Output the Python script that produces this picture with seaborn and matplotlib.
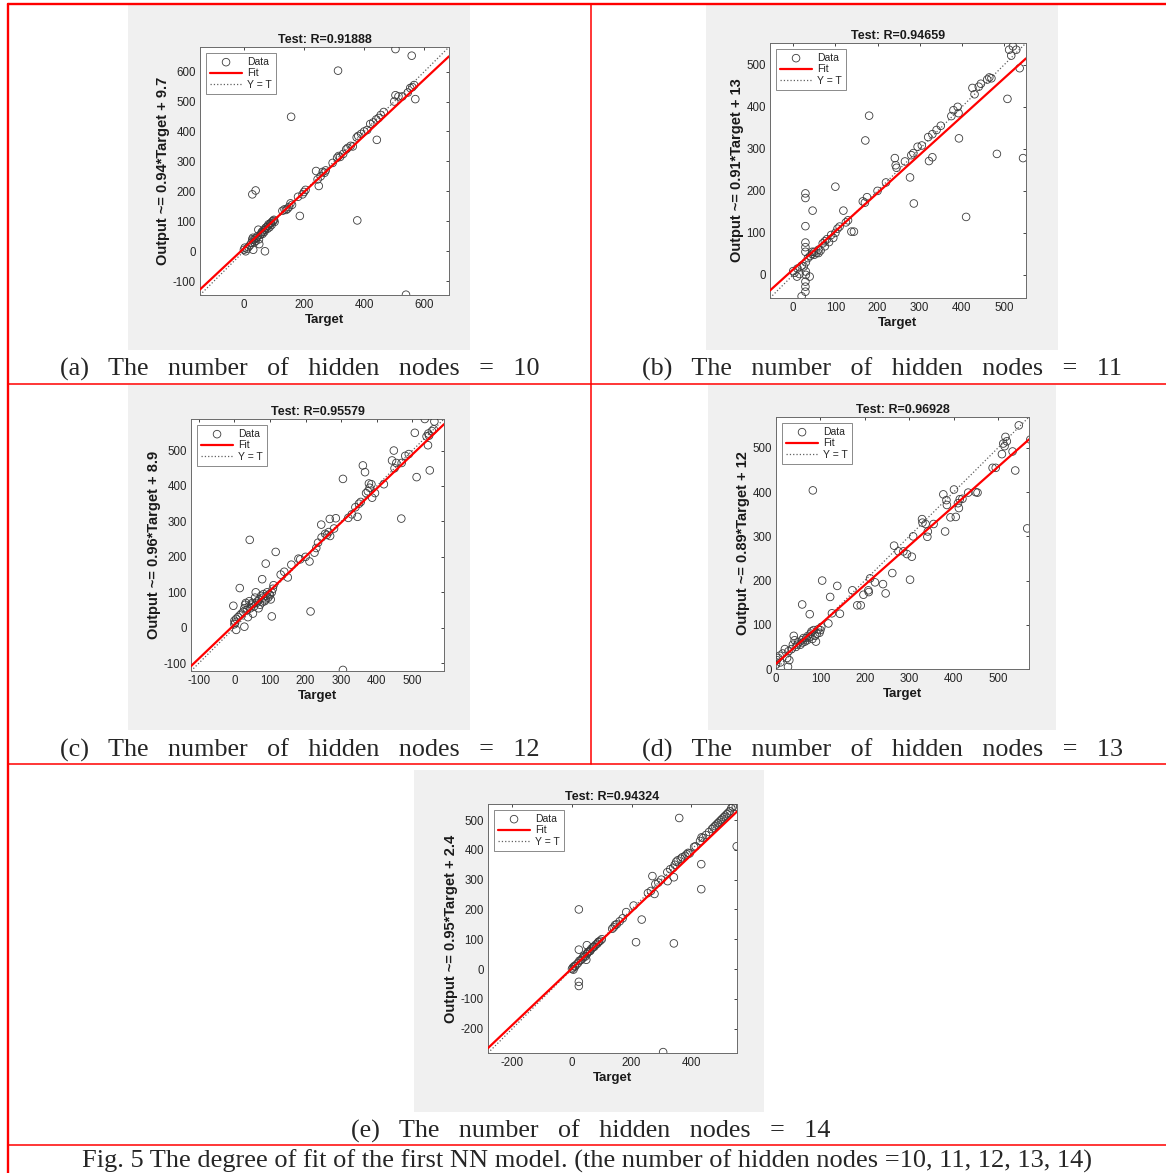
import numpy as np
import pandas as pd
import seaborn as sns
import matplotlib.pyplot as plt
from matplotlib.patches import Rectangle
from matplotlib.lines import Line2D

# ---- data: (target, output) ----
a_points = [(504, 675), (558, 653), (313, 603), (157, 449), (28, 190), (39, 203), (186, 118),
            (377, 103), (539, -145), (70, 0), (442, 372), (570, 508), (504, 521), (240, 268),
            (249, 218), (51, 24), (31, 5), (0, 5), (3, 12), (6, 0), (10, 8), (15, 14), (20, 20),
            (25, 28), (28, 40), (30, 45), (33, 38), (35, 30), (38, 42), (40, 35), (42, 45),
            (45, 50), (48, 72), (50, 40), (55, 55), (58, 60), (60, 65), (62, 58), (65, 70),
            (68, 65), (70, 72), (72, 78), (75, 80), (78, 75), (80, 85), (82, 90), (85, 80),
            (88, 92), (90, 95), (92, 88), (95, 100), (98, 102), (100, 105), (102, 98),
            (128, 135), (135, 140), (140, 138), (145, 142), (150, 148), (155, 160), (160, 155),
            (180, 182), (195, 190), (200, 198), (205, 205), (245, 240), (255, 250), (262, 265),
            (268, 262), (272, 270), (295, 295), (310, 312), (315, 318), (320, 315), (330, 325),
            (340, 340), (345, 345), (355, 352), (362, 350), (375, 380), (380, 385), (390, 392),
            (400, 400), (410, 405), (420, 425), (430, 430), (440, 440), (448, 445), (455, 455),
            (465, 465), (500, 500), (514, 517), (527, 517), (545, 530), (553, 545), (560, 548),
            (566, 555)]

b_points = [(512, 536), (521, 544), (529, 536), (517, 522), (537, 492), (508, 419), (545, 278),
            (483, 288), (410, 138), (393, 325), (286, 170), (277, 232), (330, 280), (322, 271),
            (180, 379), (171, 320), (100, 210), (119, 153), (46, 153), (29, 194), (29, 183),
            (29, 116), (29, 77), (29, 66), (29, 55), (29, -16), (29, -28), (29, -40), (20, -51),
            (39, -4), (9, -4), (0, 9), (138, 103), (144, 103), (241, 278), (243, 261), (3, 5),
            (10, 15), (20, 22), (30, 30), (35, 40), (40, 45), (45, 50), (50, 55), (55, 52),
            (60, 60), (65, 58), (70, 75), (75, 68), (80, 85), (85, 78), (90, 95), (95, 88),
            (100, 100), (105, 110), (110, 115), (125, 125), (130, 130), (165, 175), (170, 172),
            (175, 185), (200, 200), (220, 220), (245, 255), (265, 270), (280, 285), (285, 290),
            (295, 305), (305, 308), (320, 328), (330, 335), (340, 345), (350, 355), (375, 378),
            (380, 392), (390, 400), (392, 385), (425, 445), (430, 430), (440, 448), (445, 455),
            (460, 465), (465, 470), (470, 468), (15, 2), (25, 20), (30, 8), (30, 0), (45, 55),
            (50, 48), (60, 52), (75, 80)]

c_points = [(535, 589), (562, 582), (507, 550), (547, 542), (544, 515), (549, 444), (512, 425),
            (469, 308), (448, 500), (443, 472), (305, 420), (361, 458), (367, 439), (346, 313),
            (378, 407), (387, 367), (43, 248), (116, 214), (88, 181), (211, 187), (214, 46),
            (305, -119), (105, 32), (15, 112), (78, 137), (-3, 62), (28, 3), (5, -6), (244, 291),
            (268, 307), (285, 309), (269, 259), (225, 212), (0, 10), (0, 20), (2, 15), (5, 25),
            (10, 30), (15, 35), (20, 40), (25, 45), (28, 55), (30, 65), (32, 70), (35, 50),
            (38, 30), (40, 60), (42, 75), (45, 55), (48, 65), (50, 70), (52, 40), (55, 60),
            (58, 85), (60, 100), (62, 70), (65, 75), (68, 55), (70, 80), (72, 65), (75, 90),
            (78, 72), (80, 85), (82, 95), (85, 75), (88, 80), (90, 90), (92, 100), (95, 85),
            (98, 95), (100, 92), (102, 80), (105, 100), (108, 110), (110, 120), (130, 150),
            (140, 158), (150, 142), (160, 178), (180, 195), (185, 193), (200, 200), (230, 225),
            (235, 240), (245, 255), (255, 265), (260, 262), (265, 270), (280, 280), (320, 310),
            (330, 320), (340, 340), (350, 350), (355, 355), (370, 380), (375, 385), (380, 395),
            (385, 405), (395, 380), (420, 405), (450, 450), (455, 465), (470, 465), (480, 485),
            (490, 490), (540, 540), (545, 548), (555, 555), (560, 560)]

d_points = [(547, 551), (573, 519), (517, 525), (520, 515), (512, 510), (515, 504), (509, 486),
            (533, 492), (488, 455), (495, 455), (539, 449), (566, 318), (83, 404), (433, 399),
            (454, 399), (401, 406), (377, 395), (384, 382), (385, 371), (381, 311), (393, 343),
            (405, 344), (414, 384), (412, 364), (329, 339), (330, 331), (337, 328), (341, 299),
            (342, 311), (306, 254), (309, 300), (302, 202), (266, 279), (262, 217), (276, 266),
            (295, 260), (287, 266), (241, 192), (247, 171), (223, 196), (212, 205), (208, 178),
            (209, 174), (197, 168), (172, 178), (183, 144), (191, 144), (104, 200), (122, 163),
            (138, 188), (59, 146), (144, 125), (126, 126), (76, 124), (27, 5), (0, 10), (2, 20),
            (5, 25), (8, 30), (10, 15), (15, 35), (20, 45), (25, 25), (28, 40), (30, 20),
            (35, 45), (38, 55), (40, 75), (42, 65), (45, 50), (48, 55), (50, 60), (55, 55),
            (58, 65), (60, 60), (62, 70), (65, 62), (68, 70), (70, 65), (72, 75), (75, 72),
            (78, 80), (80, 85), (82, 68), (85, 88), (88, 75), (90, 62), (92, 80), (95, 90),
            (98, 82), (100, 88), (102, 95), (118, 103), (355, 328), (410, 375), (420, 385),
            (450, 400)]

e_points = [(360, 507), (553, 412), (434, 352), (434, 268), (435, 442), (270, 312), (277, 252),
            (234, 166), (215, 90), (342, 86), (306, -279), (23, 200), (23, 65), (23, -43),
            (23, -57), (48, 31), (50, 80), (182, 191), (207, 213), (321, 295), (342, 308),
            (0, 0), (3, 5), (5, -2), (8, 10), (10, 8), (15, 15), (20, 20), (25, 28), (30, 30),
            (35, 35), (38, 40), (40, 45), (45, 42), (50, 50), (52, 55), (55, 58), (60, 60),
            (62, 62), (65, 68), (70, 72), (72, 75), (75, 75), (80, 82), (85, 85), (88, 90),
            (90, 92), (95, 95), (100, 100), (135, 135), (140, 140), (145, 148), (150, 150),
            (160, 160), (170, 170), (255, 255), (265, 262), (280, 285), (290, 290), (300, 300),
            (320, 325), (330, 335), (340, 340), (345, 350), (350, 360), (355, 365), (365, 370),
            (370, 375), (380, 380), (385, 385), (390, 390), (395, 388), (410, 410), (415, 412),
            (430, 430), (440, 440), (450, 450), (460, 460), (470, 470), (475, 475), (480, 480),
            (485, 485), (490, 490), (495, 495), (500, 500), (505, 505), (510, 510), (515, 515),
            (520, 520), (525, 525), (530, 530), (535, 540), (540, 545), (550, 545)]

r_values = ['0.91888', '0.94659', '0.95579', '0.96928', '0.94324']
slopes = [0.94, 0.91, 0.96, 0.89, 0.95]
intercepts = [9.7, 13, 8.9, 12, 2.4]
hidden_nodes = [10, 11, 12, 13, 14]
letters = ['a', 'b', 'c', 'd', 'e']

W, H = 1166, 1173


def frac(x0, y0, x1, y1):
    return [x0 / W, 1 - y1 / H, (x1 - x0) / W, (y1 - y0) / H]


panels = [
    dict(pts=a_points, bg=(128, 5, 470, 350), ax=(200, 47, 449, 295), lim=(-146, 682),
         xt=[0, 200, 400, 600], yt=range(-100, 601, 100), cap=(300, 376)),
    dict(pts=b_points, bg=(706, 5, 1058, 350), ax=(770, 43, 1026, 298), lim=(-55, 552),
         xt=range(0, 501, 100), yt=range(0, 501, 100), cap=(882, 376)),
    dict(pts=c_points, bg=(128, 385, 470, 730), ax=(191, 419, 444, 671), lim=(-122, 589),
         xt=range(-100, 501, 100), yt=range(-100, 501, 100), cap=(300, 757)),
    dict(pts=d_points, bg=(708, 385, 1056, 730), ax=(776, 417, 1029, 669), lim=(0, 570),
         xt=range(0, 501, 100), yt=range(0, 501, 100), cap=(882, 757)),
    dict(pts=e_points, bg=(414, 770, 764, 1112), ax=(488, 804, 737, 1053), lim=(-282, 554),
         xt=[-200, 0, 200, 400], yt=range(-200, 501, 100), cap=(591, 1138)),
]

sns.set_theme(style='white')
plt.rcParams['font.family'] = ['Liberation Sans', 'DejaVu Sans']
plt.rcParams['axes.unicode_minus'] = False

fig = plt.figure(figsize=(W / 100, H / 100), dpi=100)
serif = ['Liberation Serif', 'DejaVu Serif']

for i, p in enumerate(panels):
    x0, y0, x1, y1 = p['bg']
    fig.add_artist(Rectangle((x0 / W, 1 - y1 / H), (x1 - x0) / W, (y1 - y0) / H,
                             transform=fig.transFigure, facecolor='#f0f0f0',
                             edgecolor='none', zorder=0))
    ax = fig.add_axes(frac(*p['ax']))
    ax.set_facecolor('white')
    df = pd.DataFrame(p['pts'], columns=['Target', 'Output'])
    sns.scatterplot(data=df, x='Target', y='Output', ax=ax, marker='o', s=30,
                    facecolor='none', edgecolor='#3c3c3c', linewidth=0.6,
                    label='Data', zorder=3)
    lo, hi = p['lim']
    fx = np.array([lo, hi], dtype=float)
    ax.plot(fx, slopes[i] * fx + intercepts[i], color='red', lw=1.6, label='Fit', zorder=4)
    ax.plot(fx, fx, ls=':', color='#606060', lw=0.9, label='Y = T', zorder=2)

    ax.set_xlim(lo, hi)
    ax.set_ylim(lo, hi)
    ax.set_xticks(list(p['xt']))
    ax.set_yticks(list(p['yt']))
    ax.tick_params(direction='in', length=2.5, width=0.6, labelsize=8.3, colors='#262626',
                   top=True, right=True, pad=3)
    for s in ax.spines.values():
        s.set_color('#6a6a6a')
        s.set_linewidth(0.7)
    ax.set_title(f'Test: R={r_values[i]}', fontsize=9, fontweight='bold', pad=3, color='#1a1a1a')
    ax.set_xlabel('Target', fontsize=9.5, fontweight='bold', labelpad=2, color='#1a1a1a')
    ax.set_ylabel(f'Output ~= {slopes[i]}*Target + {intercepts[i]:g}', fontsize=10.5,
                  fontweight='bold', labelpad=2, color='#1a1a1a')
    leg = ax.legend(loc='upper left', fontsize=7.5, frameon=True, fancybox=False,
                    edgecolor='#777777', framealpha=1, handlelength=3.1, borderaxespad=0.6,
                    labelspacing=0.15, handletextpad=0.5, borderpad=0.35, scatterpoints=1)
    leg.get_frame().set_linewidth(0.6)

    cx, cy = p['cap']
    fig.text(cx / W, 1 - cy / H,
             f'({letters[i]})   The   number   of   hidden   nodes   =   {hidden_nodes[i]}',
             ha='center', va='baseline', fontsize=18.8, family=serif)

fig.text(82 / W, 1 - 1168 / H,
         'Fig. 5 The degree of fit of the first NN model. (the number of hidden nodes =10, 11, 12, 13, 14)',
         ha='left', va='baseline', fontsize=19, family=serif)

# red table rules
red = '#ff0000'
fig.add_artist(Line2D([8 / W, 1], [1 - 4 / H] * 2, color=red, lw=1.7, transform=fig.transFigure))
fig.add_artist(Line2D([8 / W] * 2, [0, 1 - 4 / H], color=red, lw=1.7, transform=fig.transFigure))
fig.add_artist(Line2D([591 / W] * 2, [1 - 764 / H, 1 - 4 / H], color=red, lw=1.1,
                      transform=fig.transFigure))
for yy in [384, 764, 1145]:
    fig.add_artist(Line2D([8 / W, 1], [1 - yy / H] * 2, color=red, lw=1.1,
                          transform=fig.transFigure))

fig.savefig('out.png', dpi=100)
